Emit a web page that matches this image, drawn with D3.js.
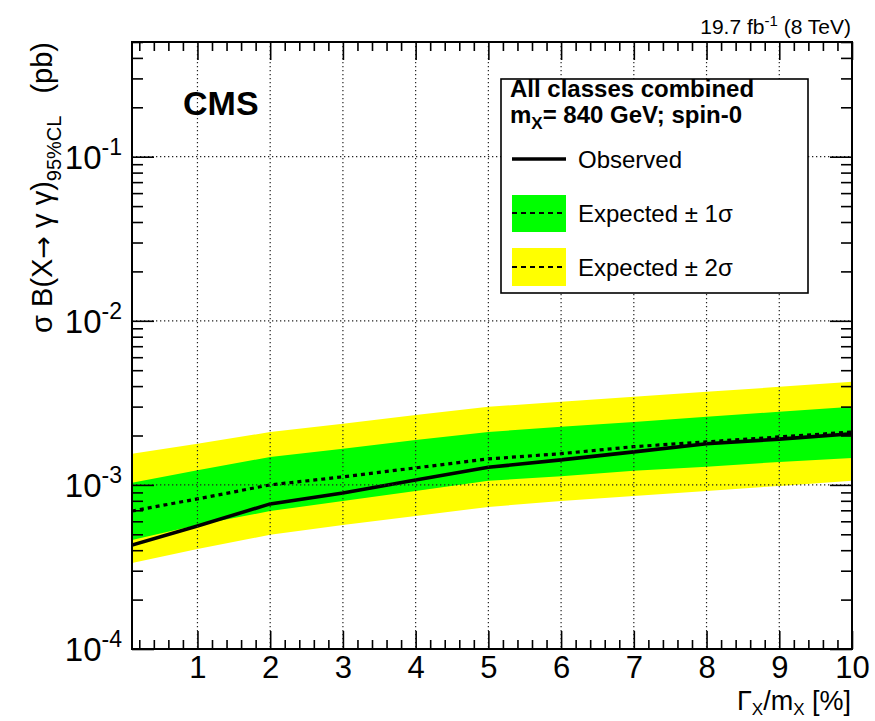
<!DOCTYPE html>
<html>
<head>
<meta charset="utf-8">
<script src="https://cdn.jsdelivr.net/npm/d3@7/dist/d3.min.js"></script>
<style>
  body { margin: 0; background: #fff; }
  text { font-family: "Liberation Sans", Arial, Helvetica, sans-serif; fill: #000; }
</style>
</head>
<body>
<svg id="chart" width="875" height="721"></svg>
<script>
// width scan points (Gamma_X / m_X in %)
const widths = [0.1, 1, 2, 3, 4, 5, 6, 7, 8, 9, 10];
// 95% CL limits in pb
const observed = [4.30e-4, 5.62e-4, 7.66e-4, 8.93e-4, 1.07e-3, 1.28e-3, 1.42e-3, 1.59e-3, 1.78e-3, 1.90e-3, 2.05e-3];
const expected = [6.93e-4, 8.22e-4, 1.00e-3, 1.12e-3, 1.27e-3, 1.44e-3, 1.55e-3, 1.71e-3, 1.83e-3, 1.96e-3, 2.10e-3];
const minus1 = [4.62e-4, 5.70e-4, 6.93e-4, 7.99e-4, 9.19e-4, 1.06e-3, 1.13e-3, 1.22e-3, 1.29e-3, 1.38e-3, 1.46e-3];
const plus1 = [1.03e-3, 1.23e-3, 1.48e-3, 1.66e-3, 1.88e-3, 2.10e-3, 2.26e-3, 2.42e-3, 2.60e-3, 2.79e-3, 2.99e-3];
const minus2 = [3.34e-4, 4.07e-4, 4.96e-4, 5.70e-4, 6.47e-4, 7.34e-4, 7.99e-4, 8.57e-4, 9.19e-4, 9.86e-4, 1.06e-3];
const plus2 = [1.55e-3, 1.78e-3, 2.10e-3, 2.36e-3, 2.67e-3, 2.99e-3, 3.21e-3, 3.44e-3, 3.69e-3, 3.96e-3, 4.25e-3];

const xTicks = [1, 2, 3, 4, 5, 6, 7, 8, 9, 10];
const yDecades = [1e-4, 1e-3, 1e-2, 1e-1];
const yExponents = ['-4', '-3', '-2', '-1'];

const svg = d3.select('#chart');
const frameL = 132, frameR = 852, frameT = 42, frameB = 649;

const x = d3.scaleLinear().domain([0.1, 10]).range([frameL, frameR]);
const y = d3.scaleLog().domain([1e-4, 0.5]).range([frameB, frameT]);

const rows = widths.map((w, i) => ({
    w,
    obs: observed[i],
    exp: expected[i],
    m1: minus1[i],
    p1: plus1[i],
    m2: minus2[i],
    p2: plus2[i]
}));

const plot = svg.append('g');
plot.append('defs').append('clipPath').attr('id', 'frame-clip')
    .append('rect')
    .attr('x', frameL).attr('y', frameT)
    .attr('width', frameR - frameL).attr('height', frameB - frameT);

const band = (lo, hi) => d3.area()
    .x(d => x(d.w))
    .y0(d => y(d[lo]))
    .y1(d => y(d[hi]));

const data = plot.append('g').attr('clip-path', 'url(#frame-clip)');
data.append('path').datum(rows)
    .attr('d', band('m2', 'p2'))
    .attr('fill', '#ffff00');
data.append('path').datum(rows)
    .attr('d', band('m1', 'p1'))
    .attr('fill', '#00ff00');

// dotted grid, drawn over the bands
const grid = plot.append('g')
    .attr('stroke', '#222')
    .attr('stroke-width', 1.2)
    .attr('stroke-dasharray', '1.3,2.7');
grid.selectAll('.gx')
    .data(xTicks.filter(v => v < 10))
    .enter().append('line')
    .attr('x1', d => x(d)).attr('x2', d => x(d))
    .attr('y1', frameT).attr('y2', frameB);
grid.selectAll('.gy')
    .data(yDecades.filter(v => v > 1e-4))
    .enter().append('line')
    .attr('x1', frameL).attr('x2', frameR)
    .attr('y1', d => y(d)).attr('y2', d => y(d));

const line = key => d3.line()
    .x(d => x(d.w))
    .y(d => y(d[key]));

data.append('path').datum(rows)
    .attr('d', line('exp'))
    .attr('fill', 'none')
    .attr('stroke', '#000')
    .attr('stroke-width', 3.2)
    .attr('stroke-dasharray', '4,4');
data.append('path').datum(rows)
    .attr('d', line('obs'))
    .attr('fill', 'none')
    .attr('stroke', '#000')
    .attr('stroke-width', 3.6);

// ticks
const minorX = d3.range(1, 50).map(i => i * 0.2).filter(v => v > 0.1 && v < 10 && Math.abs(v - Math.round(v)) > 1e-6);
const minorY = [];
yDecades.forEach(dec => {
    for (let k = 2; k <= 9; k++) {
        if (k * dec <= 0.5) minorY.push(k * dec);
    }
});

const axes = svg.append('g');
const styleAxis = g => {
    g.select('.domain').remove();
    g.selectAll('.tick line').attr('stroke', '#000').attr('stroke-width', 1.6);
};

axes.append('g')
    .attr('transform', `translate(0,${frameB})`)
    .call(d3.axisBottom(x).tickValues(xTicks).tickSizeInner(-18).tickSizeOuter(0)
        .tickPadding(7).tickFormat(d3.format('d')))
    .call(styleAxis)
    .call(g => g.selectAll('.tick text')
        .attr('font-size', 31)
        .attr('font-family', '"Liberation Sans", Arial, sans-serif')
        .attr('fill', '#000'));
axes.append('g')
    .attr('transform', `translate(0,${frameB})`)
    .call(d3.axisBottom(x).tickValues(minorX).tickSize(-9).tickFormat(''))
    .call(styleAxis);
axes.append('g')
    .attr('transform', `translate(0,${frameT})`)
    .call(d3.axisBottom(x).tickValues(xTicks).tickSize(18).tickFormat(''))
    .call(styleAxis);
axes.append('g')
    .attr('transform', `translate(0,${frameT})`)
    .call(d3.axisBottom(x).tickValues(minorX).tickSize(9).tickFormat(''))
    .call(styleAxis);

axes.append('g')
    .attr('transform', `translate(${frameL},0)`)
    .call(d3.axisLeft(y).tickValues(yDecades).tickSize(-22).tickFormat(''))
    .call(styleAxis);
axes.append('g')
    .attr('transform', `translate(${frameL},0)`)
    .call(d3.axisLeft(y).tickValues(minorY).tickSize(-11).tickFormat(''))
    .call(styleAxis);
axes.append('g')
    .attr('transform', `translate(${frameR},0)`)
    .call(d3.axisLeft(y).tickValues(yDecades).tickSize(22).tickFormat(''))
    .call(styleAxis);
axes.append('g')
    .attr('transform', `translate(${frameR},0)`)
    .call(d3.axisLeft(y).tickValues(minorY).tickSize(11).tickFormat(''))
    .call(styleAxis);

// y tick labels as 10^n
const yLab = axes.selectAll('.ylab')
    .data(yDecades)
    .enter().append('text')
    .attr('class', 'ylab')
    .attr('x', 122)
    .attr('y', d => y(d) + 12)
    .attr('text-anchor', 'end')
    .attr('font-size', 33);
yLab.append('tspan').text('10');
yLab.append('tspan')
    .attr('dy', -14)
    .attr('font-size', 23)
    .text((d, i) => yExponents[i]);

// frame
svg.append('rect')
    .attr('x', frameL).attr('y', frameT)
    .attr('width', frameR - frameL).attr('height', frameB - frameT)
    .attr('fill', 'none')
    .attr('stroke', '#000')
    .attr('stroke-width', 2);

// axis titles
const yTitle = svg.append('text')
    .attr('transform', `translate(52,${frameT}) rotate(-90)`)
    .attr('text-anchor', 'end')
    .attr('font-size', 29);
yTitle.append('tspan').text('σ B(X');
yTitle.append('tspan').style('font-family', '"DejaVu Sans", sans-serif').attr('font-size', 27).text('→');
yTitle.append('tspan').text(' γ γ)');
yTitle.append('tspan').attr('dy', 9).attr('font-size', 20).text('95%CL');
yTitle.append('tspan').attr('dy', -9).attr('dx', 22).text('(pb)');

const xTitle = svg.append('text')
    .attr('x', 851).attr('y', 710)
    .attr('text-anchor', 'end')
    .attr('font-size', 27);
xTitle.append('tspan').text('Γ');
xTitle.append('tspan').attr('dy', 5).attr('font-size', 17).text('X');
xTitle.append('tspan').attr('dy', -5).text('/m');
xTitle.append('tspan').attr('dy', 5).attr('font-size', 17).text('X');
xTitle.append('tspan').attr('dy', -5).text(' [%]');

const lumi = svg.append('text')
    .attr('x', 851).attr('y', 34)
    .attr('text-anchor', 'end')
    .attr('font-size', 21);
lumi.append('tspan').text('19.7 fb');
lumi.append('tspan').attr('dy', -8).attr('font-size', 15).text('-1');
lumi.append('tspan').attr('dy', 8).text(' (8 TeV)');

svg.append('text')
    .attr('x', 183).attr('y', 115)
    .attr('font-size', 34)
    .attr('font-weight', 'bold')
    .text('CMS');

// legend
const legendLabels = ['Observed', 'Expected ± 1σ', 'Expected ± 2σ'];
const legend = svg.append('g');
legend.append('rect')
    .attr('x', 501).attr('y', 79)
    .attr('width', 307).attr('height', 214)
    .attr('fill', '#fff')
    .attr('stroke', '#000')
    .attr('stroke-width', 1.6);
legend.append('text')
    .attr('x', 510).attr('y', 97)
    .attr('font-size', 24).attr('font-weight', 'bold')
    .text('All classes combined');
const hdr = legend.append('text')
    .attr('x', 510).attr('y', 123)
    .attr('font-size', 24).attr('font-weight', 'bold');
hdr.append('tspan').text('m');
hdr.append('tspan').attr('dy', 6).attr('font-size', 17).text('X');
hdr.append('tspan').attr('dy', -6).text('= 840 GeV; spin-0');

legend.append('line')
    .attr('x1', 512).attr('x2', 566).attr('y1', 159).attr('y2', 159)
    .attr('stroke', '#000').attr('stroke-width', 3.6);
legend.append('rect')
    .attr('x', 512).attr('y', 195).attr('width', 54).attr('height', 37)
    .attr('fill', '#00ff00');
legend.append('rect')
    .attr('x', 512).attr('y', 248).attr('width', 54).attr('height', 38)
    .attr('fill', '#ffff00');
[213, 267].forEach(yy => {
    legend.append('line')
        .attr('x1', 512).attr('x2', 566).attr('y1', yy).attr('y2', yy)
        .attr('stroke', '#000').attr('stroke-width', 2.2)
        .attr('stroke-dasharray', '5,4');
});
legend.selectAll('.leg')
    .data(legendLabels)
    .enter().append('text')
    .attr('x', 578)
    .attr('y', (d, i) => [168, 222, 276][i])
    .attr('font-size', 24)
    .text(d => d);
</script>
</body>
</html>
